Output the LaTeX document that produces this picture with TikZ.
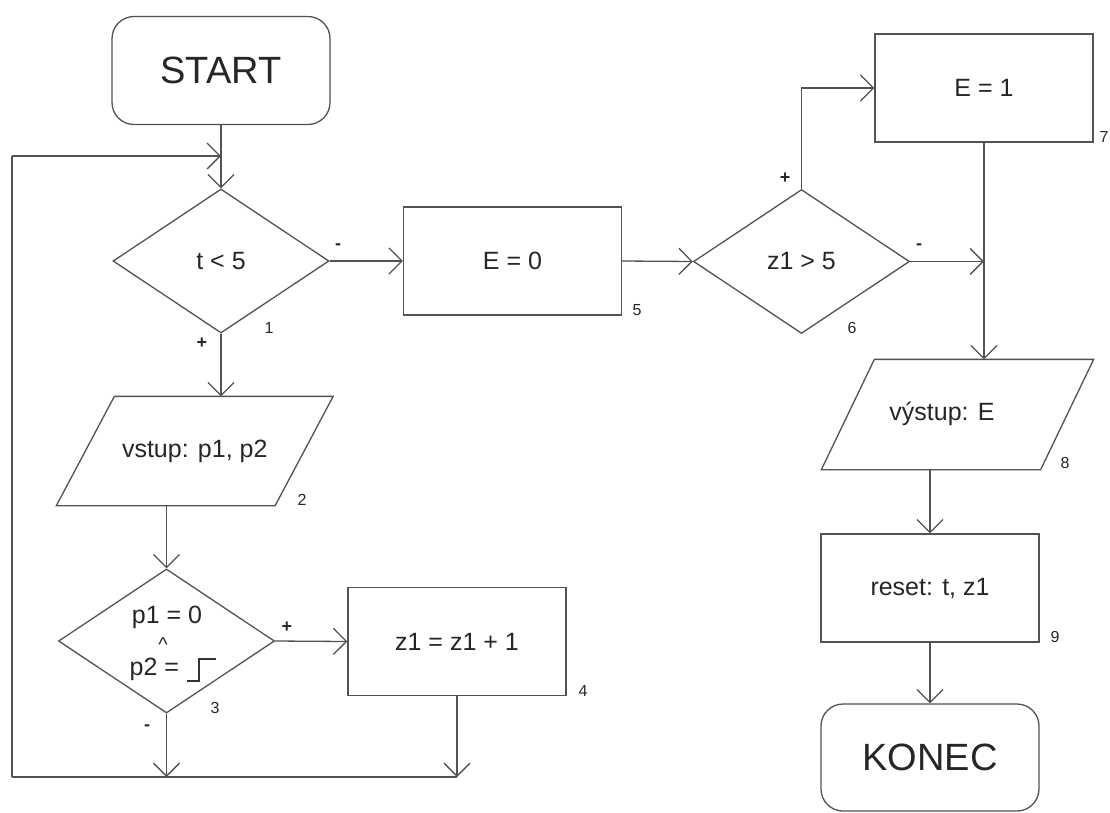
\documentclass[tikz,border=0pt]{standalone}
\usepackage{fontspec}
\setmainfont{Liberation Sans}
\usetikzlibrary{arrows.meta,shapes.geometric}

\begin{document}
\begin{tikzpicture}[x=1pt,y=-1pt,line width=1.3pt,
  ink/.style={draw=black!68},
  txt/.style={text=black!85},
  box/.style={rectangle,ink,txt,minimum width=218pt,minimum height=108pt,inner sep=0pt,font=\fontsize{25}{29}\selectfont},
  term/.style={box,rounded corners=22pt,font=\fontsize{38}{42}\selectfont},
  dec/.style={diamond,ink,txt,minimum width=216pt,minimum height=144pt,inner sep=0pt,font=\fontsize{25}{29}\selectfont},
  io/.style={rectangle,txt,minimum height=108pt,inner sep=0pt,font=\fontsize{25}{29}\selectfont},
  num/.style={txt,inner sep=0pt,font=\fontsize{16}{18}\selectfont},
  sig/.style={txt,inner sep=0pt,font=\bfseries\fontsize{18}{20}\selectfont},
  flow/.style={ink,-{Straight Barb[length=13pt,width=26pt]}},
  wire/.style={ink}]

\useasboundingbox (0,0) rectangle (1110,812);

% left column
\node[term] (start) at (221,70.5) {START};
\node[dec] (d1) at (221,261) {t < 5};
\node[io,minimum width=217.5pt] (io2) at (194.75,451) {vstup: p1, p2};
\node[dec] (d3) at (166.5,641) {};
\node[box] (box4) at (457,641.5) {z1 = z1 + 1};

% condition text inside the second decision
\node[txt,anchor=base,inner sep=0pt,font=\fontsize{25}{29}\selectfont] (c3a) at (167,623) {p1 = 0};
\node[txt,inner sep=0pt,font=\fontsize{20}{24}\selectfont] (c3b) at (163,645) {\textasciicircum};
\node[txt,anchor=base west,inner sep=0pt,font=\fontsize{25}{29}\selectfont] (c3c) at (129,675) {p2 =};
\draw[draw=black!80,line width=1.2pt] (187,681) -- (199,681) -- (199,659) -- (216,659);

% middle and right column
\node[box] (box5) at (512.5,261) {E = 0};
\node[dec] (d6) at (801.5,261.5) {z1 > 5};
\node[box] (box7) at (984,88) {E = 1};
\node[io,minimum width=218pt,minimum height=109pt] (io8) at (957.5,414.5) {};
\node[txt,inner sep=0pt,font=\fontsize{25}{29}\selectfont] (t8) at (942,414) {výstup: E};
\node[box] (box9) at (930,588) {reset: t, z1};
\node[term,minimum height=107pt] (konec) at (930,757.5) {KONEC};

% input/output parallelograms
\draw[ink] ([xshift=29pt]io2.north west) -- ([xshift=29pt]io2.north east)
  -- ([xshift=-29pt]io2.south east) -- ([xshift=-29pt]io2.south west) -- cycle;
\draw[ink] ([xshift=26.5pt]io8.north west) -- ([xshift=26.5pt]io8.north east)
  -- ([xshift=-26.5pt]io8.south east) -- ([xshift=-26.5pt]io8.south west) -- cycle;

% loop corners and junction
\coordinate (tl) at (12,156);
\coordinate (bl) at (12,777);
\coordinate (m) at (box7.south |- d6.east);

% connectors
\draw[flow] (start.south) -- (d1.north);
\draw[wire] (bl) -- (tl);
\draw[flow] (tl) -- (tl -| d1.north);
\draw[wire] (bl) -- (bl -| box4.south);
\draw[flow] (d1.south) -- (d1.south |- io2.north);
\draw[flow] (d3.north |- io2.south) -- (d3.north);
\draw[flow] (d3.east) -- (box4.west);
\draw[flow] (d3.south) -- (d3.south |- bl);
\draw[flow] (box4.south) -- (box4.south |- bl);
\draw[flow] (d1.east) -- (box5.west);
\draw[flow] (box5.east) -- (d6.west);
\draw[flow] (d6.north) |- (box7.west);
\draw[flow] (d6.east) -- (m);
\draw[flow] (box7.south) -- (box7.south |- io8.north);
\draw[flow] (box9.north |- io8.south) -- (box9.north);
\draw[flow] (box9.south) -- (konec.north);

% branch signs
\node[sig] (p1) at (202,343) {+};
\node[sig] (m1) at (338,247) {-};
\node[sig] (p3) at (287,627) {+};
\node[sig] (m3) at (147,728) {-};
\node[sig] (p6) at (785,178) {+};
\node[sig] (m6) at (919,247) {-};

% step numbers
\node[num] (n1) at (269,328) {1};
\node[num] (n2) at (302,500) {2};
\node[num] (n3) at (215,708) {3};
\node[num] (n4) at (583,691) {4};
\node[num] (n5) at (637,310) {5};
\node[num] (n6) at (852,328) {6};
\node[num] (n7) at (1104,137) {7};
\node[num] (n8) at (1065,463) {8};
\node[num] (n9) at (1055,637) {9};
\end{tikzpicture}
\end{document}
